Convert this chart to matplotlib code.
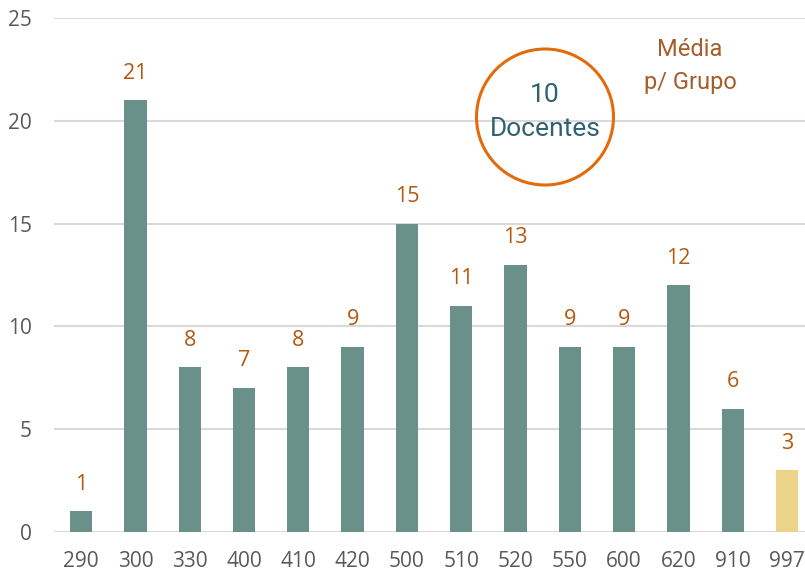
import numpy as np
import matplotlib.pyplot as plt
from matplotlib.patches import Ellipse

# Data
grupos = ['290', '300', '330', '400', '410', '420', '500', '510', '520', '550', '600', '620', '910', '997']
docentes = [1, 21, 8, 7, 8, 9, 15, 11, 13, 9, 9, 12, 6, 3]
cores = ['#6a9189'] * 13 + ['#ebd38a']

fig = plt.figure(figsize=(8.05, 5.73), dpi=100)
ax = fig.add_axes([0.067, 0.0716, 0.933, 0.897])

x = np.arange(len(grupos))
ax.bar(x, docentes, width=0.41, color=cores, zorder=3)

for xi, v in zip(x, docentes):
    ax.annotate(str(v), (xi, v), xytext=(0, 19.5), textcoords='offset points',
                ha='center', va='center', fontsize=15.5, color='#b4570f', family='Open Sans')

ax.set_xlim(-0.5, 13.33)
ax.set_ylim(0, 25)
ax.set_yticks([0, 5, 10, 15, 20, 25])
ax.set_xticks(x)
ax.set_xticklabels(grupos)
ax.grid(axis='y', color='#d9d9d9', linewidth=1.5, zorder=0)
for s in ['top', 'right', 'left', 'bottom']:
    ax.spines[s].set_visible(False)
ax.tick_params(length=0, labelsize=15, labelcolor='#595959')
ax.tick_params(axis='x', pad=14)
ax.tick_params(axis='y', pad=16)
for lbl in ax.get_xticklabels() + ax.get_yticklabels():
    lbl.set_family('Open Sans')

# Círculo com a média
circ = Ellipse((545 / 805, 1 - 117 / 573), 137 / 805, 136 / 573, transform=fig.transFigure,
               fill=False, edgecolor='#e36c0a', linewidth=2.2, zorder=5)
fig.patches.append(circ)
fig.text(545 / 805, 1 - 95 / 573, '10', ha='center', va='center', fontsize=19,
         color='#2e6272', family='Roboto')
fig.text(545 / 805, 1 - 129 / 573, 'Docentes', ha='center', va='center', fontsize=19,
         color='#2e6272', family='Roboto')
fig.text(690 / 805, 1 - 50 / 573, 'Média', ha='center', va='center', fontsize=17,
         color='#a65d2c', family='Roboto')
fig.text(690 / 805, 1 - 82 / 573, 'p/ Grupo', ha='center', va='center', fontsize=17,
         color='#a65d2c', family='Roboto')

fig.savefig('out.png', dpi=100)
